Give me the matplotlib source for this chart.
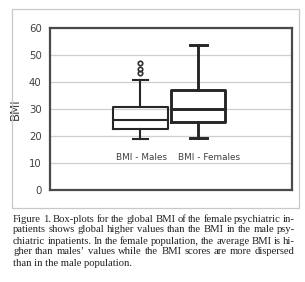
import matplotlib
matplotlib.use("Agg")
import matplotlib.pyplot as plt
from matplotlib.patches import Rectangle

# box-plot stats
groups = ["BMI - Males", "BMI - Females"]
whislo = [18.9, 19.3]
q1 = [22.5, 25.1]
med = [25.9, 29.9]
q3 = [30.6, 37.0]
whishi = [40.7, 53.7]
fliers = [[43.2, 44.7, 46.9], []]
yticks = [0, 10, 20, 30, 40, 50, 60]

caption = [
    "Figure 1. Box-plots for the global BMI of the female psychiatric in-",
    "patients shows global higher values than the BMI in the male psy-",
    "chiatric inpatients. In the female population, the average BMI is hi-",
    "gher than males\u2019 values while the BMI scores are more dispersed",
    "than in the male population.",
]

W, H = 305, 282
fig = plt.figure(figsize=(W / 100, H / 100), dpi=100)
fig.patch.set_facecolor("white")

# light frame round the chart
fig.add_artist(Rectangle((12 / W, 1 - 208 / H), 287 / W, 199 / H,
                         transform=fig.transFigure, fill=False,
                         edgecolor="#c8c8c8", lw=0.9))

ax = fig.add_axes([50 / W, 1 - 190 / H, 242 / W, 162 / H])
ax.set_xlim(-0.563, 3.62)
ax.set_ylim(0, 60)
ax.set_yticks(yticks)
ax.set_xticks([])
ax.tick_params(axis="y", length=0, labelsize=7.3, labelcolor="#404040", pad=6)
ax.grid(axis="y", color="#cfcfcf", lw=0.9)
ax.set_axisbelow(True)
for s in ax.spines.values():
    s.set_color("#4a4a4a")
    s.set_linewidth(1.6)
ax.set_ylabel("BMI", fontsize=8.5, color="#404040", labelpad=5)

lws = [1.5, 2.1]
caps = [0.26, 0.29]
label_x = [1.02, 2.19]
for i in range(2):
    st = dict(whislo=whislo[i], q1=q1[i], med=med[i], q3=q3[i],
              whishi=whishi[i], fliers=fliers[i])
    ax.bxp([st], positions=[i + 1], widths=0.94, capwidths=[caps[i]],
           showfliers=True, patch_artist=False,
           boxprops=dict(color="#262626", lw=lws[i]),
           medianprops=dict(color="#262626", lw=lws[i]),
           whiskerprops=dict(color="#262626", lw=lws[i]),
           capprops=dict(color="#262626", lw=lws[i]),
           flierprops=dict(marker="o", markersize=3.2, markerfacecolor="none",
                           markeredgecolor="#303030", markeredgewidth=1.2))
    ax.text(label_x[i], 11.9, groups[i], ha="center", va="center",
            fontsize=6.4, color="#404040")
ax.set_xticks([])

# caption, justified by hand
x0, x1 = 13 / W, 295 / W
ys = [219, 230, 241, 252, 263]
fs = 7.7
fig.canvas.draw()
r = fig.canvas.get_renderer()
for k, line in enumerate(caption):
    y = 1 - ys[k] / H
    if k == len(caption) - 1:
        fig.text(x0, y, line, fontsize=fs, family="Liberation Serif",
                 va="center", ha="left", color="#222222")
        continue
    words = line.split(" ")
    ts = [fig.text(0, y, w, fontsize=fs, family="Liberation Serif",
                   va="center", ha="left", color="#222222") for w in words]
    ws = [t.get_window_extent(r).width / (W) for t in ts]
    gap = (x1 - x0 - sum(ws)) / (len(words) - 1)
    x = x0
    for t, w in zip(ts, ws):
        t.set_x(x)
        x += w + gap

fig.savefig("out.png", dpi=100, facecolor="white")
